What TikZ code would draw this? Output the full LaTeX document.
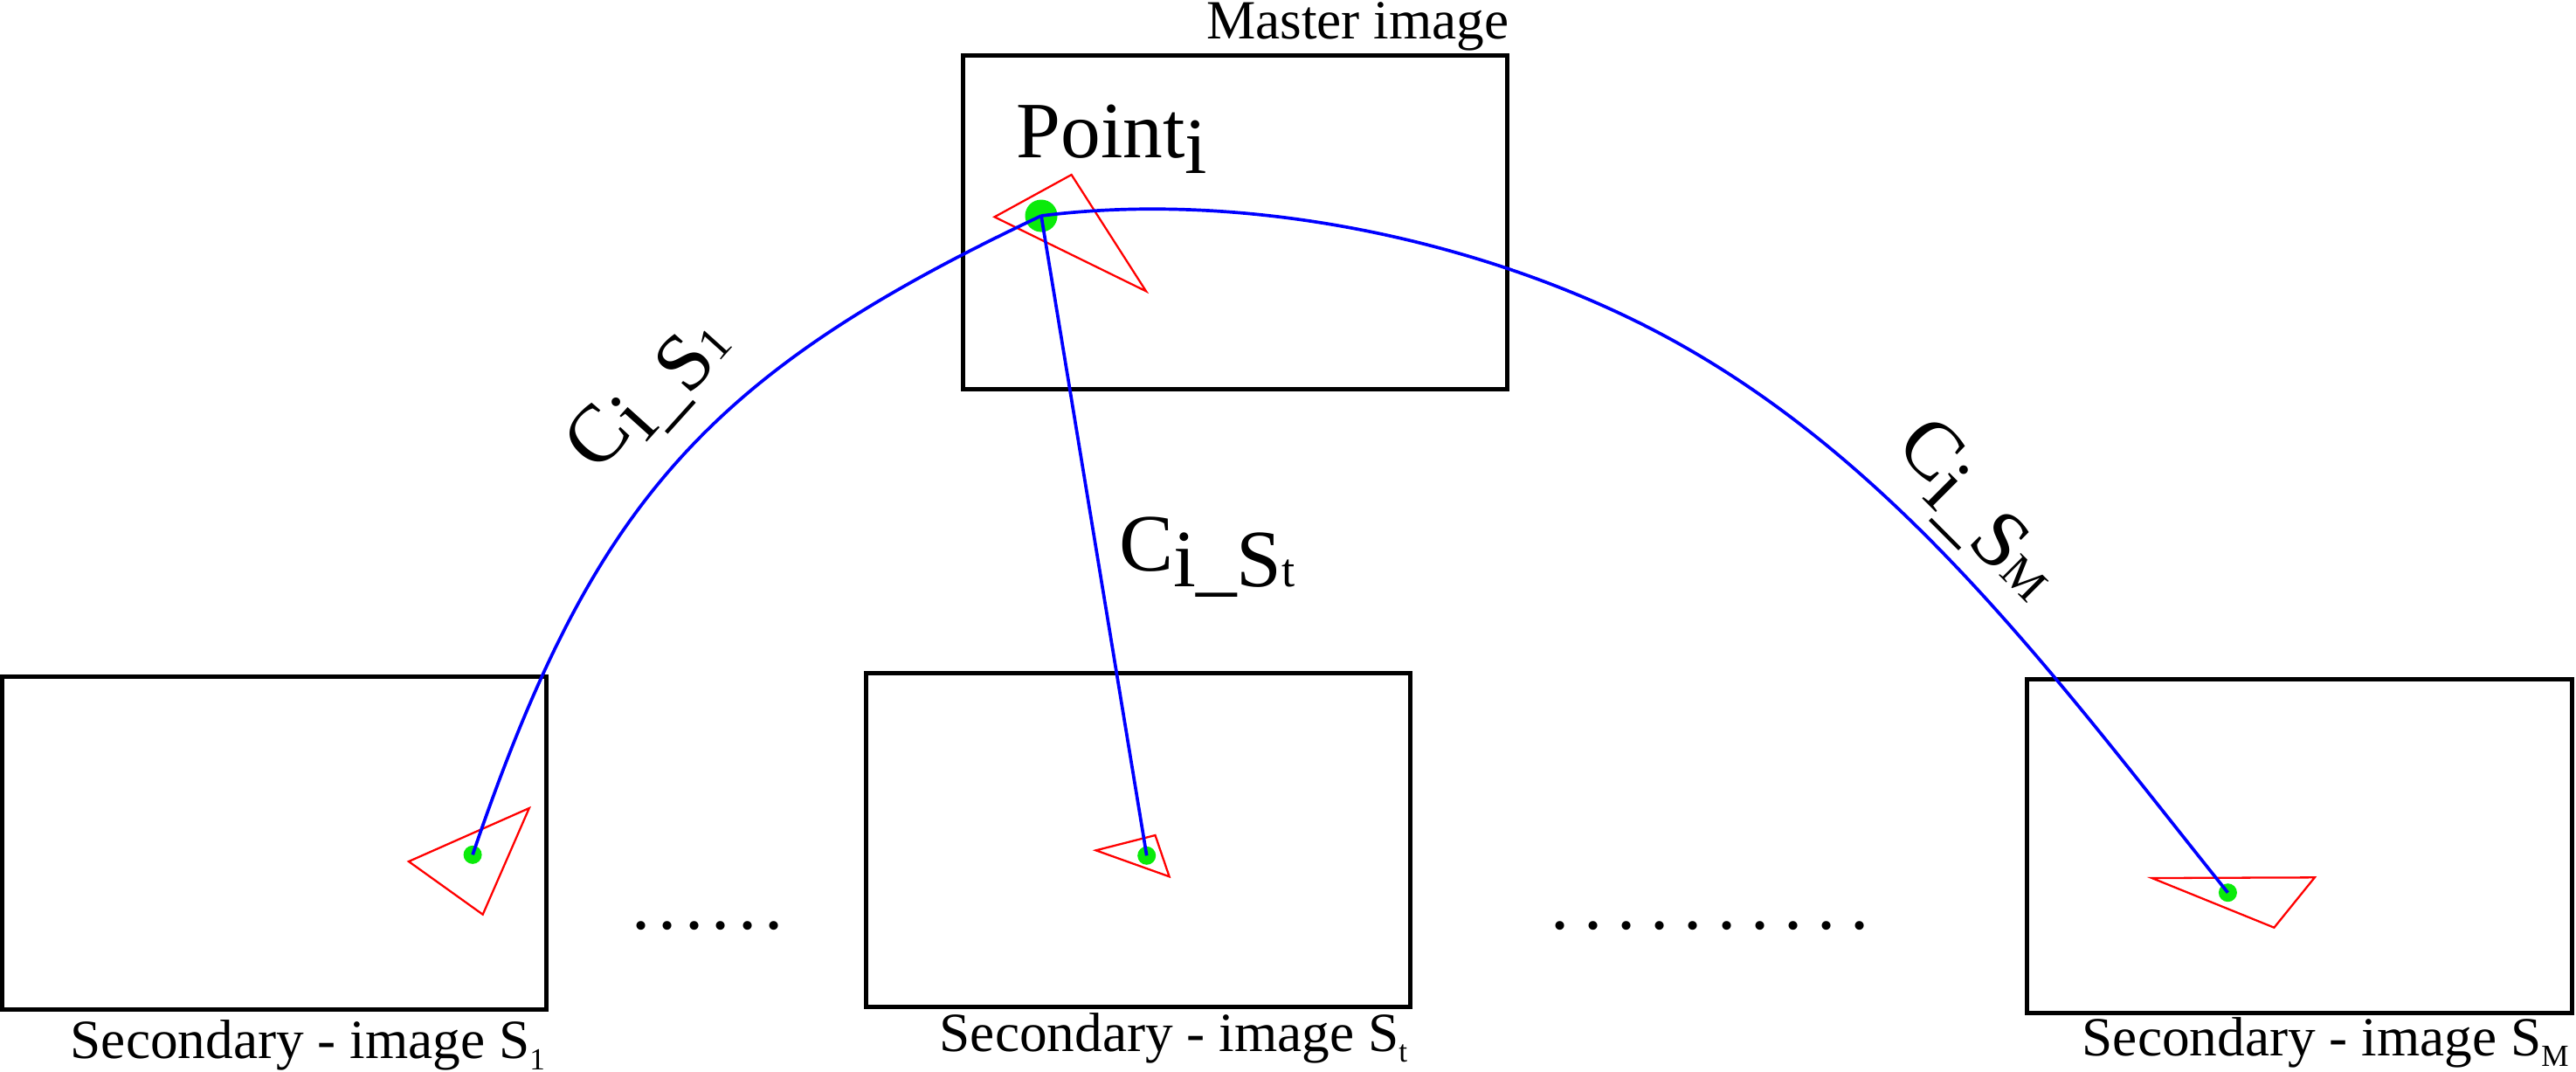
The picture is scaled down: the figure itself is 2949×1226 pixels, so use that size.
\documentclass[tikz,border=0pt]{standalone}
\usepackage{fontspec}
\setmainfont{Liberation Serif}
\definecolor{lnblue}{RGB}{0,0,255}
\definecolor{ptgreen}{RGB}{10,235,10}
\definecolor{trired}{RGB}{255,0,0}
\newcommand\lblfont{\fontsize{18pt}{21pt}\selectfont}
\newcommand\subfont{\fontsize{10pt}{12pt}\selectfont}
\newcommand\ptfont{\fontsize{26pt}{30pt}\selectfont}
\newcommand\cfont{\fontsize{26.5pt}{30pt}\selectfont}
\newcommand\csubfont{\fontsize{15.5pt}{18pt}\selectfont}
\newcommand\dotfont{\fontsize{24pt}{28pt}\selectfont}
\newcommand\lowsub[1]{\raisebox{-0.125cm}{\subfont #1}}
\newcommand\clabel[1]{C\raisebox{-0.18cm}{i\_S{\csubfont #1}}}
\begin{document}
\begin{tikzpicture}[x=0.01cm,y=-0.01cm,
  imgbox/.style={rectangle, draw=black, line width=1.42pt, minimum width=6.23cm, minimum height=3.815cm, inner sep=0pt},
  tri/.style={draw=trired, line width=0.65pt},
  gdot/.style={circle, fill=ptgreen, draw=none, inner sep=0pt},
  conn/.style={draw=lnblue, line width=1.05pt},
  lbl/.style={inner sep=0pt, font=\lblfont},
  txt/.style={inner sep=0pt}]
\useasboundingbox (0,0) rectangle (2949,1226);

% image frames
\node[imgbox] (master) at (1413.8,254.8) {};
\node[imgbox] (sec1) at (314.2,965.1) {};
\node[imgbox] (sect) at (1303.2,961.2) {};
\node[imgbox] (secm) at (2632.5,968.4) {};

% red triangles
\draw[tri] (1138.5,248.3) -- (1226.6,200) -- (1312,333.3) -- cycle;
\draw[tri] (467.9,986) -- (605.8,925) -- (552.7,1046.7) -- cycle;
\draw[tri] (1254.6,973.3) -- (1322.5,956) -- (1338.6,1003.3) -- cycle;
\draw[tri] (2463.5,1005) -- (2649.8,1004.3) -- (2603.4,1061.7) -- cycle;

% green points
\node[gdot, minimum size=0.37cm] (pm) at (1192,247) {};
\node[gdot, minimum size=0.21cm] (p1) at (541.1,978.3) {};
\node[gdot, minimum size=0.21cm] (pt) at (1312.7,979.3) {};
\node[gdot, minimum size=0.21cm] (pM) at (2550.4,1021.7) {};

% blue connections
\coordinate (arcmid) at (1923,394);
\draw[conn] (pm.center) .. controls (808,428.5) and (678,576) .. (p1.center);
\draw[conn] (pm.center) -- (pt.center);
\draw[conn] (pm.center) .. controls (1430,216.8) and (1713.7,276.4) .. (arcmid)
  .. controls (2184.6,541) and (2362.5,787.7) .. (pM.center);

% labels
\node[lbl, anchor=base east] (mlabel) at (1728,44) {Master image};
\node[lbl, anchor=base west] (l1) at (80,1211.7) {Secondary - image S\lowsub{1}};
\node[lbl, anchor=base west] (lt) at (1075,1203.3) {Secondary - image S\lowsub{t}};
\node[lbl, anchor=base west] (lm) at (2383,1208.3) {Secondary - image S\lowsub{M}};
\node[txt, font=\ptfont, anchor=base west] (ptlabel) at (1163,180) {Point\raisebox{-0.18cm}{i}};
\node[txt, font=\cfont, anchor=base west] (cst) at (1280.5,653) {\clabel{t}};
\node[txt, font=\cfont, rotate=48] (cs1) at (744.4,452) {\clabel{1}};
\node[txt, font=\cfont, rotate=-45] (csm) at (2262.5,584.9) {\clabel{M}};

% ellipses
\node[txt, font=\dotfont, anchor=base west] (dots1) at (722.4,1063)
  {.\kern0.094cm.\kern0.094cm.\kern0.094cm.\kern0.094cm.\kern0.094cm.};
\node[txt, font=\dotfont, anchor=base west] (dots2) at (1774.4,1063)
  {.\kern0.171cm.\kern0.171cm.\kern0.171cm.\kern0.171cm.\kern0.171cm.\kern0.171cm.\kern0.171cm.\kern0.171cm.\kern0.171cm.};
\end{tikzpicture}
\end{document}
